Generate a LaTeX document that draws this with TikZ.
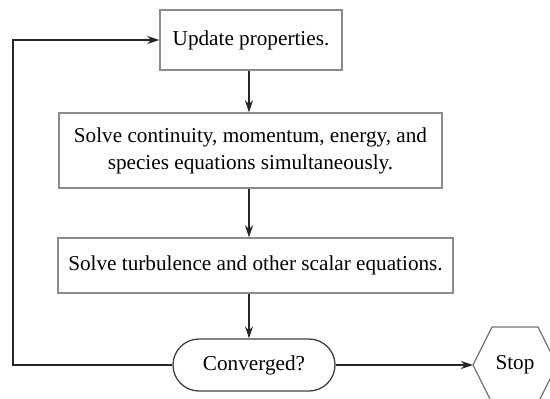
\documentclass[tikz,border=0pt]{standalone}
\usepackage{fontspec}
\setmainfont{Liberation Serif}
\usetikzlibrary{arrows.meta,shapes.misc}
\begin{document}
\begin{tikzpicture}[x=1pt,y=-1pt,
  box/.style={draw=black!45,line width=1.4pt,rectangle,inner sep=0pt,align=center,
    font=\fontsize{21.2}{27}\selectfont,text=black},
  term/.style={draw=black!75,line width=1.3pt,rounded rectangle,inner sep=0pt,
    font=\fontsize{21.2}{27}\selectfont,text=black},
  conn/.style={draw=black!85,line width=1.4pt},
  arr/.style={conn,-{Stealth[length=12pt,width=8pt]}}]
\useasboundingbox (0,0) rectangle (550,399);
\node[box,minimum width=182pt,minimum height=60pt] (b1) at (251,40) {Update properties.};
\node[box,minimum width=383pt,minimum height=75pt] (b2) at (250.5,150.5)
  {Solve continuity, momentum, energy, and\\species equations simultaneously.};
\node[box,minimum width=395pt,minimum height=55pt] (b3) at (255.5,265.5)
  {Solve turbulence and other scalar equations.};
\node[term,minimum width=162pt,minimum height=52pt] (conv) at (254,365) {Converged?};
\node[font=\fontsize{21.2}{26}\selectfont,text=black] (stop) at (515,365) {Stop};
\coordinate (sw) at (473,365);
\draw[draw=black!55,line width=1.3pt] (sw) -- (492,327) -- (538,327) -- (557,365) -- (538,403) -- (492,403) -- cycle;
\coordinate (ax) at (249,0);
\coordinate (lx) at (13,0);
\draw[arr] (b1.south -| ax) -- (b2.north -| ax);
\draw[arr] (b2.south -| ax) -- (b3.north -| ax);
\draw[arr] (b3.south -| ax) -- (conv.north -| ax);
\draw[arr] (conv.east) -- (sw);
\draw[arr] (conv.west) -- (conv.west -| lx) |- (b1.west);
\end{tikzpicture}
\end{document}
